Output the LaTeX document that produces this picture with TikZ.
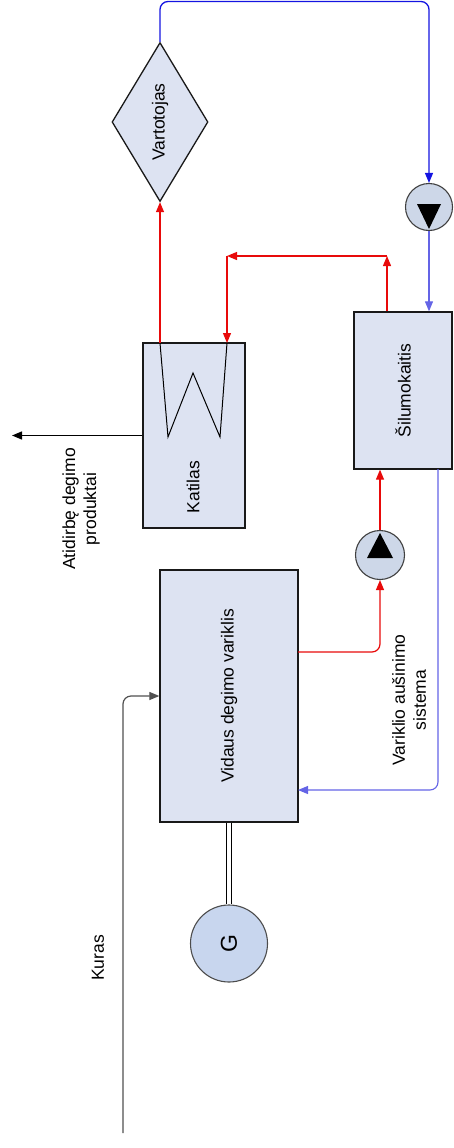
\documentclass[tikz,border=0pt]{standalone}
\usepackage{fontspec}
\setmainfont{Liberation Sans}
\usetikzlibrary{arrows.meta,shapes.geometric}
\definecolor{boxfill}{RGB}{221,227,242}
\definecolor{pumpfill}{RGB}{205,215,232}
\definecolor{genfill}{RGB}{200,214,238}
\definecolor{hotred}{RGB}{232,10,10}
\definecolor{coldblue}{RGB}{20,20,225}
\definecolor{coldlight}{RGB}{100,100,230}
\definecolor{fuelgrey}{RGB}{80,80,80}
\begin{document}
\begin{tikzpicture}[x=1pt,y=-1pt,
  font=\fontsize{17.5}{21}\selectfont,
  box/.style={draw=black!90, line width=1.3pt, fill=boxfill, inner sep=0pt},
  pump/.style={circle, draw=black!75, line width=1.1pt, fill=pumpfill, minimum size=48pt, inner sep=0pt},
  tip/.style={-{Triangle[length=10pt,width=8pt]}},
  hot/.style={draw=hotred, line width=1.2pt, tip},
  cold/.style={draw=coldblue, line width=1.3pt, tip},
  coldlt/.style={draw=coldlight, line width=1.1pt, tip},
  fuel/.style={draw=fuelgrey, line width=1.2pt, tip},
  lbl/.style={rotate=90, align=center, inner sep=0pt}
  ]
\useasboundingbox (0,0) rectangle (453,1148);

% main units
\node[box, minimum width=138pt, minimum height=252pt] (vdv) at (229,696) {\rotatebox{90}{Vidaus degimo variklis}};
\node[box, minimum width=102pt, minimum height=185pt] (kat) at (194,435.5) {};
\node[lbl] (katl) at (193,487) {Katilas};
\node[box, minimum width=98pt, minimum height=157pt] (sil) at (403,390.5) {\rotatebox{90}{Šilumokaitis}};
\node[diamond, box, aspect=0.6, minimum width=96pt, minimum height=159pt] (var) at (160,122) {\rotatebox{90}{Vartotojas}};

% pumps
\node[pump, minimum size=47pt] (p1) at (429,207) {};
\fill (p1.center) ++(-12,-3) -- ++(24,0) -- ++(-12,25) -- cycle;
\node[pump, minimum size=49pt] (p2) at (380,555) {};
\fill (p2.center) ++(0,-22) -- ++(13,25) -- ++(-26,0) -- cycle;

% generator
\node[circle, draw=black!70, line width=1.1pt, fill=genfill, minimum size=77pt, inner sep=0pt, font=\fontsize{23}{26}\selectfont] (gen) at (229,943.5) {\rotatebox{90}{G}};
\draw[double, double distance=3.5pt, line width=1pt] (vdv.south) -- (gen.north);

% coil in boiler
\coordinate (z0) at (160,343);
\coordinate (z1) at (168,437);
\coordinate (z2) at (193,373);
\coordinate (z3) at (220,437);
\coordinate (z4) at (227,343);
\draw[line width=1pt] (z0) -- (z1) -- (z2) -- (z3) -- (z4);

% top blue loop
\coordinate (t1) at (160,1.5);
\coordinate (t2) at (429,1.5);
\draw[cold, rounded corners=8pt] (var.north) -- (t1) -- (t2) -- (p1.north);
\draw[coldlt] (p1.south) -- (p1.south |- sil.north);

% red loop boiler / heat exchanger
\coordinate (r1) at (387,256);
\coordinate (r2) at (227,256);
\draw[hot] (sil.north -| r1) -- (r1);
\draw[hot] (r1) -- (r2);
\draw[hot] (r2) -- (z4);
\draw[hot] (z0) -- (var.south);

% exhaust
\coordinate (ex) at (12,435.5);
\draw[tip, line width=1.3pt] (kat.west) -- (ex);
\node[lbl] (atd) at (81,509) {Atidirbę degimo\\produktai};

% engine cooling
\coordinate (ve) at (298,652);
\draw[hot, rounded corners=8pt] (ve) -| (p2.south);
\draw[hot] (p2.north) -- (p2.north |- sil.south);
\coordinate (sb) at (438,469);
\coordinate (vi) at (298,790);
\draw[coldlt, rounded corners=8pt] (sb) |- (vi);
\node[lbl] (vas) at (409,700) {Variklio aušinimo\\sistema};

% fuel
\coordinate (k0) at (123,1133);
\draw[fuel, rounded corners=8pt] (k0) |- (vdv.west);
\node[lbl] (kur) at (98,958) {Kuras};
\end{tikzpicture}
\end{document}
